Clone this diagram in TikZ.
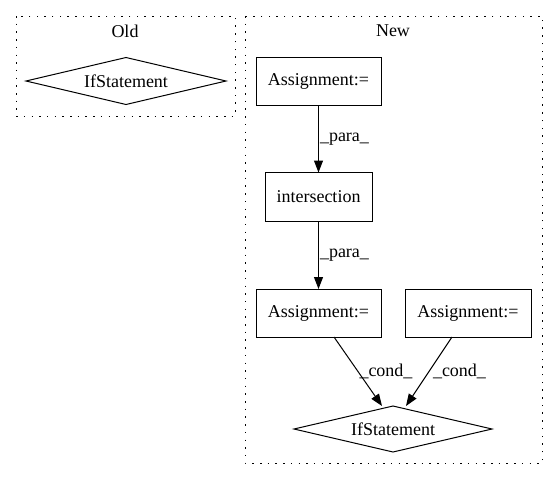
\documentclass[tikz,border=0pt]{standalone}
\usepackage{fontspec}
\setmainfont{Liberation Serif}
\usetikzlibrary{shapes.geometric,arrows.meta,positioning}

\begin{document}
\begin{tikzpicture}[x=1pt,y=-1pt,->,>={Triangle[length=12pt,width=9pt]},line width=1pt,
  every node/.style={font=\fontsize{18}{20}\selectfont,outer sep=0pt}]
\tikzstyle{box}=[draw,rectangle,minimum width=125pt,minimum height=48pt,inner sep=0pt]
\tikzstyle{cond}=[diamond,draw,aspect=4.2,minimum width=200pt,minimum height=47pt,inner sep=0pt]
\tikzstyle{lbl}=[midway,anchor=west,inner sep=1.5pt]
\tikzstyle{cluster}=[-,line width=1pt,dash pattern=on 1.5pt off 6.2pt]

\useasboundingbox (0,0) rectangle (557,480);

% old
\draw[cluster] (16,16) rectangle (235,116);
\node (oldlabel) at (125,31) {Old};
\node[cond] (oldif) at (126,81) {IfStatement};

% new
\draw[cluster] (245,16) rectangle (542,463);
\node (newlabel) at (393,31) {New};
\node[box] (topassign) at (318.5,81) {Assignment:=};
\node[box,minimum width=107pt,minimum height=49pt] (inter) at (318.5,197) {intersection};
\node[box] (midassign) at (318.5,313) {Assignment:=};
\node[box,minimum width=126pt] (rightassign) at (468,313) {Assignment:=};
\node[cond,minimum width=198pt,minimum height=46pt] (newif) at (393,429) {IfStatement};

\path
(topassign) edge node[lbl]{\_para\_} (inter)
(inter) edge node[lbl]{\_para\_} (midassign);
\draw ([xshift=15.5pt]midassign.south) -- node[lbl]{\_cond\_} ([xshift=-11pt]newif.north);
\draw ([xshift=-16pt]rightassign.south) -- node[lbl,inner sep=4pt]{\_cond\_} ([xshift=13pt]newif.north);
\end{tikzpicture}
\end{document}
